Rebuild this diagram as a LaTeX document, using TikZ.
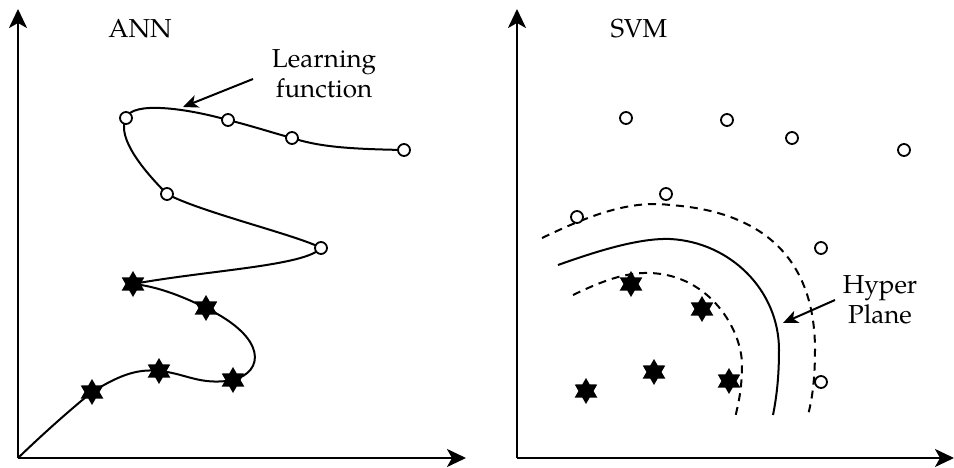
\documentclass[tikz,border=0pt]{standalone}
\usepackage{fontspec}
\setmainfont{TeX Gyre Pagella}
\usetikzlibrary{shapes.geometric,arrows.meta}
\begin{document}
\begin{tikzpicture}[x=1pt,y=-1pt,
  axis/.style={line width=2.4pt,-{Stealth[length=19pt,width=18pt,inset=5pt]}},
  curve/.style={line width=2pt},
  margin/.style={line width=2pt,dash pattern=on 8pt off 6pt},
  pointer/.style={line width=2pt,-{Stealth[length=15pt,width=13pt,inset=4pt]}},
  ring/.style={circle,draw,line width=1.8pt,fill=white,minimum size=12pt,inner sep=0pt},
  hexstar/.style={star,star points=6,star point ratio=1.73,fill=black,minimum size=26pt,inner sep=0pt},
  txt/.style={font=\fontsize{26}{30}\selectfont,align=center,inner sep=0pt}
]
\useasboundingbox (0,0) rectangle (954,468);

% ---------------- left panel: ANN ----------------
\coordinate (o1) at (18,458);
\coordinate (ytop1) at (18,9);
\coordinate (xend1) at (466,458);
\draw[axis] (o1) -- (ytop1);
\draw[axis] (o1) -- (xend1);

% data points on the fitted curve
\coordinate (a1) at (92,392);
\coordinate (a2) at (159,371);
\coordinate (a3) at (233,380);
\coordinate (a4) at (206,308);
\coordinate (a5) at (133,284);
\coordinate (b1) at (321,248);
\coordinate (b2) at (167,194);
\coordinate (b3) at (126,118);
\coordinate (b4) at (228,120);
\coordinate (b5) at (292,138);
\coordinate (b6) at (404,150);

% learning function
\draw[curve] (o1)
  .. controls (45,432) and (70,410) .. (a1)
  .. controls (115,378) and (135,368) .. (a2)
  .. controls (185,373) and (200,386) .. (a3)
  .. controls (264,372) and (268,338) .. (a4)
  .. controls (180,295) and (155,286) .. (a5)
  .. controls (210,270) and (305,266) .. (b1)
  .. controls (300,236) and (200,212) .. (b2)
  .. controls (145,172) and (116,138) .. (b3)
  .. controls (132,101) and (185,108) .. (b4)
  .. controls (252,126) and (270,132) .. (b5)
  .. controls (320,147) and (350,149) .. (b6);

\foreach \p in {a1,a2,a3,a4,a5}
  \node[hexstar] (s-\p) at (\p) {};
\foreach \p in {b1,b2,b3,b4,b5,b6}
  \node[ring] (r-\p) at (\p) {};

\node[txt] (ann) at (140,29) {ANN};
\node[txt] (learn) at (324,74) {Learning\\function};
\coordinate (lf-from) at (253,79);
\coordinate (lf-to) at (183,107);
\draw[pointer] (lf-from) -- (lf-to);

% ---------------- right panel: SVM ----------------
\coordinate (o2) at (517,458);
\coordinate (ytop2) at (517,9);
\coordinate (xend2) at (954,458);
\draw[axis] (o2) -- (ytop2);
\draw[axis] (o2) -- (xend2);

% outer margin
\draw[margin] (542,238)
  .. controls (590,215) and (630,200) .. (670,205)
  .. controls (770,212) and (815,265) .. (815,350)
  .. controls (815,380) and (812,400) .. (808,415);
% separating surface
\draw[curve] (558,265)
  .. controls (600,250) and (640,238) .. (670,239)
  .. controls (730,242) and (779,290) .. (779,350)
  .. controls (779,380) and (776,400) .. (773,415);
% inner margin
\draw[margin] (573,295)
  .. controls (600,282) and (625,272) .. (650,273)
  .. controls (710,275) and (742,330) .. (742,365)
  .. controls (742,390) and (738,405) .. (735,418);

\foreach \n/\pos in {d1/{(626,118)},d2/{(727,120)},d3/{(792,138)},d4/{(904,150)},
                     d5/{(666,194)},d6/{(577,217)},d7/{(821,248)},d8/{(821,382)}}
  \node[ring] (\n) at \pos {};
\foreach \n/\pos in {e1/{(631,284)},e2/{(702,309)},e3/{(654,372)},e4/{(729,381)},e5/{(586,391)}}
  \node[hexstar] (\n) at \pos {};

\node[txt] (svm) at (639,29) {SVM};
\node[txt] (hyper) at (880,300) {Hyper\\Plane};
\coordinate (hp-from) at (835,300);
\coordinate (hp-to) at (783,323);
\draw[pointer] (hp-from) -- (hp-to);
\end{tikzpicture}
\end{document}
